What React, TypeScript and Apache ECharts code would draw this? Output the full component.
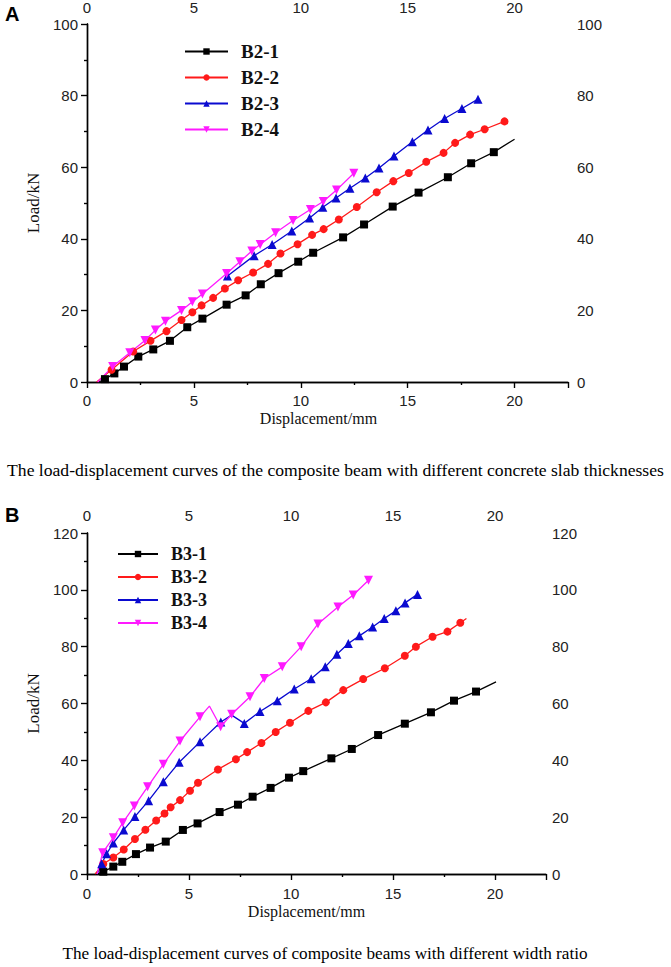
import React, { useEffect, useRef } from 'react';
import * as echarts from 'echarts';

// ---------- Panel A (different concrete slab thicknesses) ----------
const seriesNamesA = ['B2-1', 'B2-2', 'B2-3', 'B2-4'];
const b21 = [[0.55,0],[0.84,0.8],[1.28,2.4],[1.73,4.3],[2.4,7.1],[3.1,9.1],[3.88,11.5],[4.69,15.3],[5.4,17.7],[6.53,21.6],[7.42,24.2],[8.13,27.3],[8.96,30.4],[9.88,33.6],[10.58,36.1],[11.98,40.4],[12.96,44.0],[14.3,49.0],[15.51,52.9],[16.88,57.2],[17.97,61.1],[19.03,64.2],[20.0,67.8]];
const b21Unmarked = [0, 22];
const b22 = [[0.45,0],[1.15,3.4],[2.16,8.5],[2.97,11.5],[3.72,14.2],[4.42,17.3],[4.93,19.5],[5.36,21.4],[5.9,23.5],[6.45,26.1],[7.07,28.4],[7.77,30.6],[8.47,33.0],[9.05,35.9],[9.85,38.5],[10.53,41.1],[11.07,42.7],[11.78,45.4],[12.62,48.9],[13.55,53.0],[14.33,56.1],[15.05,58.4],[15.87,61.5],[16.68,64.0],[17.22,66.8],[17.92,69.1],[18.6,70.6],[19.53,72.8]];
const b22Unmarked = [0];
const b23 = [[6.57,29.6],[7.82,35.3],[8.66,38.4],[9.58,42.2],[10.41,45.8],[11.03,48.8],[11.65,51.4],[12.3,54.1],[13.02,57.0],[13.66,59.8],[14.36,63.1],[15.22,67.1],[15.95,70.4],[16.73,73.6],[17.54,76.4],[18.29,79.0]];
const b23Unmarked: number[] = [];
const b24 = [[0.5,0],[1.2,4.3],[2.0,8.2],[2.71,11.6],[3.2,14.5],[3.67,17.0],[4.42,20.0],[4.93,22.4],[5.4,24.6],[6.53,30.3],[7.15,33.6],[7.71,36.6],[8.1,38.4],[8.82,41.7],[9.64,45.1],[10.45,48.2],[11.05,50.4],[11.67,53.6],[12.48,58.3]];
const b24Unmarked = [0];

// ---------- Panel B (different width ratio) ----------
const seriesNamesB = ['B3-1', 'B3-2', 'B3-3', 'B3-4'];
const b31 = [[0.5,0],[0.8,0.8],[1.29,2.6],[1.73,4.3],[2.4,7.0],[3.09,9.3],[3.86,11.4],[4.7,15.5],[5.42,17.8],[6.5,21.8],[7.4,24.4],[8.12,27.2],[9.0,30.3],[9.9,33.9],[10.6,36.2],[11.98,40.7],[12.98,44.0],[14.27,48.9],[15.58,52.9],[16.86,56.9],[17.99,61.0],[19.07,64.2],[20.05,67.6]];
const b31Unmarked = [0, 22];
const b32 = [[0.4,0],[0.8,3.5],[1.29,5.8],[1.8,8.6],[2.35,12.3],[2.86,15.6],[3.39,18.8],[3.8,21.3],[4.1,23.5],[4.56,26.0],[5.05,29.3],[5.44,32.1],[6.42,36.8],[7.3,40.4],[7.85,42.9],[8.55,46.1],[9.25,50.0],[9.95,53.2],[10.85,57.4],[11.71,60.4],[12.56,64.7],[13.54,68.6],[14.6,72.4],[15.58,76.8],[16.12,80.0],[16.94,83.5],[17.67,85.3],[18.3,88.4],[18.6,89.9]];
const b32Unmarked = [0, 28];
const b33 = [[0.5,0],[0.72,3.6],[0.96,7.1],[1.29,10.9],[1.8,15.5],[2.35,20.2],[3.02,25.8],[3.74,32.5],[4.52,39.3],[5.54,46.5],[6.56,53.5],[7.09,55.9],[7.71,53.0],[8.48,57.2],[9.33,61.0],[10.16,65.1],[10.99,68.7],[11.68,72.9],[12.25,77.3],[12.81,81.1],[13.35,83.8],[14.0,86.9],[14.57,89.9],[15.14,92.6],[15.59,95.4],[16.2,98.4]];
const b33Unmarked = [0, 11];
const b34 = [[0.5,0],[0.77,7.5],[1.29,12.8],[1.75,18.0],[2.32,23.9],[2.97,30.7],[3.74,38.6],[4.56,46.8],[5.54,55.3],[6.0,59.1],[6.55,51.8],[7.09,56.2],[7.99,62.4],[8.69,68.8],[9.57,72.9],[10.5,80.0],[11.32,88.0],[12.3,94.0],[13.05,98.2],[13.8,103.4]];
const b34Unmarked = [0, 9];

const xRange = [0, 22.5];
const yRangeA = [0, 100];
const yRangeB = [0, 120];

const captionA = 'The load-displacement curves of the composite beam with different concrete slab thicknesses';
const captionB = 'The load-displacement curves of composite beams with different width ratio';

const SANS = 'Liberation Sans';
const SERIF = 'Liberation Serif';
const DOWN_TRI = 'path://M0,0L10,0L5,9Z';

function makeSeries(name: string, pts: number[][], unmarked: number[], color: string, symbol: string, size: number, xi: number, yi: number) {
  return {
    type: 'line',
    name,
    xAxisIndex: xi,
    yAxisIndex: yi,
    symbol,
    symbolSize: size,
    showSymbol: true,
    lineStyle: { color, width: 1.3 },
    itemStyle: { color },
    data: pts.map((p, i) => (unmarked.indexOf(i) >= 0 ? { value: p, symbol: 'none' } : { value: p })),
  };
}

const labelFmt = (step: number) => (v: number) => (Math.abs(v % step) < 1e-6 ? String(v) : '');

function xAxes(grid: number, bottomMargin: number, topMargin: number, nameGap: number, namePadRight: number) {
  const common = {
    type: 'value',
    gridIndex: grid,
    min: xRange[0],
    max: xRange[1],
    interval: 5,
    splitLine: { show: false },
    axisLine: { show: true, lineStyle: { color: '#000', width: 1.4 } },
    minorTick: { show: true, splitNumber: 2, length: 3, lineStyle: { color: '#000', width: 1.2 } },
    minorSplitLine: { show: false },
  };
  return [
    {
      ...common,
      position: 'bottom',
      axisTick: { show: true, length: 6, lineStyle: { color: '#000', width: 1.2 } },
      axisLabel: { margin: bottomMargin, fontFamily: SANS, fontSize: 15, color: '#222', formatter: labelFmt(5) },
      name: 'Displacement/mm',
      nameLocation: 'middle',
      nameGap,
      nameTextStyle: { fontFamily: SERIF, fontSize: 16, color: '#111', padding: [0, namePadRight, 0, 0] },
    },
    {
      ...common,
      position: 'top',
      axisTick: { show: true, inside: true, length: 6, lineStyle: { color: '#000', width: 1.2 } },
      axisLabel: { margin: topMargin, fontFamily: SANS, fontSize: 15, color: '#222', formatter: labelFmt(5) },
    },
  ];
}

function yAxes(grid: number, range: number[], rightMargin: number) {
  const common = {
    type: 'value',
    gridIndex: grid,
    min: range[0],
    max: range[1],
    interval: 20,
    splitLine: { show: false },
    axisLine: { show: true, lineStyle: { color: '#000', width: 1.4 } },
    minorTick: { show: true, splitNumber: 2, length: 3, lineStyle: { color: '#000', width: 1.2 } },
    minorSplitLine: { show: false },
  };
  return [
    {
      ...common,
      position: 'left',
      axisTick: { show: true, length: 6, lineStyle: { color: '#000', width: 1.2 } },
      axisLabel: { margin: 9, fontFamily: SANS, fontSize: 15, color: '#222' },
      name: 'Load/kN',
      nameLocation: 'middle',
      nameRotate: 90,
      nameGap: 40,
      nameTextStyle: { fontFamily: SERIF, fontSize: 17, color: '#111' },
    },
    {
      ...common,
      position: 'right',
      axisTick: { show: true, inside: true, length: 6, lineStyle: { color: '#000', width: 1.2 } },
      axisLabel: { margin: rightMargin, fontFamily: SANS, fontSize: 15, color: '#222' },
    },
  ];
}

function legend(names: string[], left: number, top: number, itemWidth: number, gap: number, fontSize: number) {
  return {
    data: names,
    orient: 'vertical',
    left,
    top,
    padding: 0,
    itemWidth,
    itemHeight: 8,
    itemGap: gap,
    selectedMode: false,
    textStyle: { fontFamily: SERIF, fontWeight: 'bold', fontSize, color: '#111', lineHeight: 16, padding: [0, 0, 0, 8] },
  };
}

export default function App() {
  const ref = useRef<HTMLDivElement>(null);
  useEffect(() => {
    document.body.style.margin = '0';
    if (!ref.current) return;
    const chart = echarts.init(ref.current, undefined, { renderer: 'svg' });
    const BLACK = '#000000';
    const RED = '#ff1a1a';
    const BLUE = '#0a0ad0';
    const MAG = '#ff1aff';
    chart.setOption({
      animation: false,
      backgroundColor: '#ffffff',
      grid: [
        { left: 87, top: 24, width: 481, height: 358 },
        { left: 87, top: 533, width: 459, height: 341 },
      ],
      xAxis: [...xAxes(0, 11, 9, 28, 18), ...xAxes(1, 12, 10, 29, 20)],
      yAxis: [...yAxes(0, yRangeA, 9), ...yAxes(1, yRangeB, 6)],
      legend: [
        legend(seriesNamesA, 184, 42, 43, 7, 19),
        legend(seriesNamesB, 117, 545, 40, 5, 18),
      ],
      series: [
        makeSeries(seriesNamesA[0], b21, b21Unmarked, BLACK, 'rect', 8, 0, 0),
        makeSeries(seriesNamesA[1], b22, b22Unmarked, RED, 'circle', 8, 0, 0),
        makeSeries(seriesNamesA[2], b23, b23Unmarked, BLUE, 'triangle', 9, 0, 0),
        makeSeries(seriesNamesA[3], b24, b24Unmarked, MAG, DOWN_TRI, 9, 0, 0),
        makeSeries(seriesNamesB[0], b31, b31Unmarked, BLACK, 'rect', 8, 2, 2),
        makeSeries(seriesNamesB[1], b32, b32Unmarked, RED, 'circle', 8, 2, 2),
        makeSeries(seriesNamesB[2], b33, b33Unmarked, BLUE, 'triangle', 9, 2, 2),
        makeSeries(seriesNamesB[3], b34, b34Unmarked, MAG, DOWN_TRI, 9, 2, 2),
      ],
      graphic: [
        { type: 'text', left: 5, top: 4, style: { text: 'A', font: `bold 20px ${SANS}`, fill: '#000' } },
        { type: 'text', left: 5, top: 505, style: { text: 'B', font: `bold 20px ${SANS}`, fill: '#000' } },
        { type: 'text', x: 335.5, y: 470, style: { text: captionA, font: `17.6px ${SERIF}`, fill: '#000', align: 'center', verticalAlign: 'middle' } },
        { type: 'text', x: 325, y: 953, style: { text: captionB, font: `17.2px ${SERIF}`, fill: '#000', align: 'center', verticalAlign: 'middle' } },
      ],
    });
    return () => chart.dispose();
  }, []);
  return <div ref={ref} style={{ width: 671, height: 967 }} />;
}
